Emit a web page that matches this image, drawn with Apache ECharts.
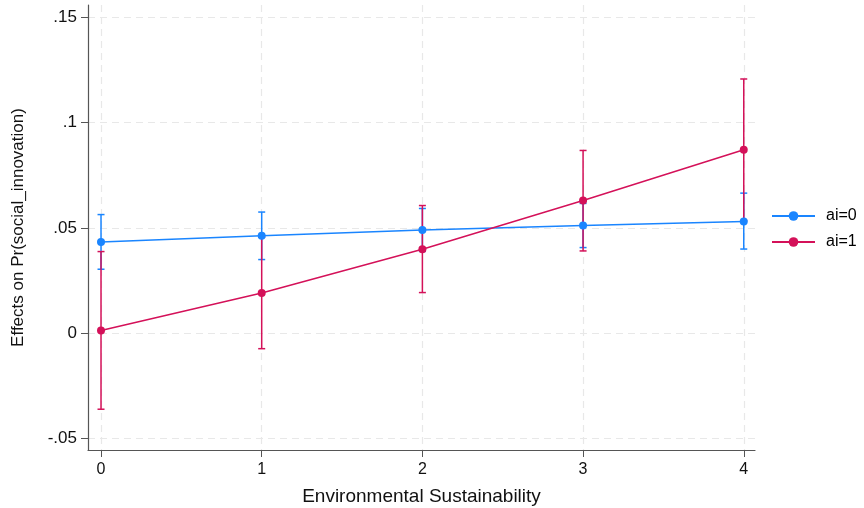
<!DOCTYPE html>
<html><head><meta charset="utf-8">
<script src="https://cdn.jsdelivr.net/npm/echarts@6/dist/echarts.min.js"></script>
<style>html,body{margin:0;padding:0;background:#fff}#c{width:864px;height:508px}</style>
</head><body><div id="c"></div>
<script>
const xValues = [0, 1, 2, 3, 4];
const ai0Est = [0.0433, 0.0462, 0.0490, 0.0511, 0.0530];
const ai0Lo  = [0.0303, 0.0349, 0.0388, 0.0406, 0.0399];
const ai0Hi  = [0.0563, 0.0575, 0.0592, 0.0616, 0.0665];
const ai1Est = [0.0011, 0.0190, 0.0398, 0.0630, 0.0871];
const ai1Lo  = [-0.0363, -0.0075, 0.0192, 0.0390, 0.0534];
const ai1Hi  = [0.0387, 0.0455, 0.0606, 0.0868, 0.1208];
const yTicks = [-0.05, 0, 0.05, 0.1, 0.15];
const xTicks = [0, 1, 2, 3, 4];
const seriesNames = ['ai=0', 'ai=1'];

const C0 = '#1a85ff', C1 = '#d41159';
const FONT = 'Liberation Sans, Arial, sans-serif';

function fmtY(v){
  if (Math.abs(v) < 1e-9) return '0';
  let s = String(+v.toFixed(4));
  return s.replace(/^(-?)0\./, '$1.');
}

function errSeries(name, color, lo, hi){
  return {
    type: 'custom', name: name + ' CI', z: 2,
    data: xValues.map((x,i)=>[x, lo[i], hi[i]]),
    renderItem: function(params, api){
      const x = api.value(0);
      const p1 = api.coord([x, api.value(1)]);
      const p2 = api.coord([x, api.value(2)]);
      const w = 3.5;
      const st = {stroke: color, lineWidth: 1.5, fill: null};
      return {type: 'group', children: [
        {type:'line', shape:{x1:p1[0], y1:p1[1], x2:p2[0], y2:p2[1]}, style: st},
        {type:'line', shape:{x1:p1[0]-w, y1:p1[1], x2:p1[0]+w, y2:p1[1]}, style: st},
        {type:'line', shape:{x1:p2[0]-w, y1:p2[1], x2:p2[0]+w, y2:p2[1]}, style: st}
      ]};
    },
    silent: true
  };
}

const chart = echarts.init(document.getElementById('c'), null, {renderer:'canvas'});
chart.setOption({
  animation: false,
  textStyle: {fontFamily: FONT},
  grid: {left: 88, right: 109, top: 5, bottom: 58, containLabel: false, outerBoundsMode: 'none'},
  legend: {
    orient: 'vertical', left: 766, top: 203, itemGap: 10,
    itemWidth: 43, itemHeight: 12,
    textStyle: {fontSize: 16, color: '#000', fontFamily: FONT, padding: [0, 0, 0, 6]},
    data: seriesNames
  },
  xAxis: {
    type: 'value', min: -0.081, max: 4.07,
    name: 'Environmental Sustainability', nameLocation: 'middle', nameGap: 37,
    nameTextStyle: {fontSize: 19, color: '#111', fontFamily: FONT},
    axisLine: {show: true, onZero: false, lineStyle: {color: '#555', width: 1.2}},
    axisTick: {show: true, length: 7, lineStyle: {color: '#555'}, customValues: xTicks},
    axisLabel: {fontSize: 16, color: '#111', margin: 12, customValues: xTicks, formatter: v => String(v)},
    splitLine: {show: true, lineStyle: {color: '#e8e8e8', type: [7, 5], width: 1.2}}
  },
  yAxis: {
    type: 'value', min: -0.0557, max: 0.156,
    name: 'Effects on Pr(social_innovation)', nameLocation: 'middle', nameGap: 61,
    nameTextStyle: {fontSize: 17, color: '#111', fontFamily: FONT},
    axisLine: {show: true, onZero: false, lineStyle: {color: '#555', width: 1.2}},
    axisTick: {show: true, length: 7, lineStyle: {color: '#555'}, customValues: yTicks},
    axisLabel: {fontSize: 17, color: '#111', margin: 11, customValues: yTicks, formatter: fmtY},
    splitLine: {show: true, lineStyle: {color: '#e8e8e8', type: [7, 5], width: 1.2}}
  },
  series: [
    errSeries(seriesNames[0], C0, ai0Lo, ai0Hi),
    errSeries(seriesNames[1], C1, ai1Lo, ai1Hi),
    {
      type: 'line', name: seriesNames[0], z: 3,
      data: xValues.map((x,i)=>[x, ai0Est[i]]),
      symbol: 'circle', symbolSize: 8,
      lineStyle: {color: C0, width: 1.5}, itemStyle: {color: C0}
    },
    {
      type: 'line', name: seriesNames[1], z: 3,
      data: xValues.map((x,i)=>[x, ai1Est[i]]),
      symbol: 'circle', symbolSize: 8,
      lineStyle: {color: C1, width: 1.5}, itemStyle: {color: C1}
    }
  ]
});
</script></body></html>
